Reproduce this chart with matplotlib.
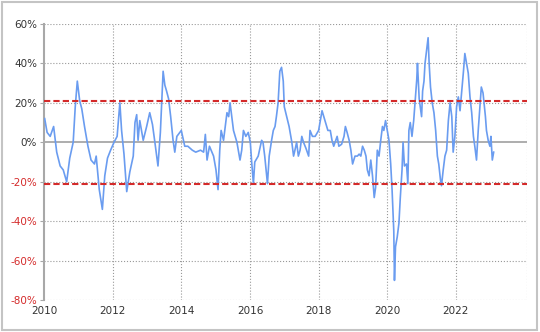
# Écart par rapport à la moyenne (en %), 2010 - 2023, avec bandes à +/-20 %

import matplotlib
matplotlib.use("Agg")
import matplotlib.pyplot as plt
from matplotlib.patches import Rectangle


# -----------------------------
# Données
# -----------------------------
annees = [
    2010.02, 2010.09, 2010.18, 2010.28, 2010.37, 2010.47, 2010.56, 2010.66, 2010.75, 2010.85,
    2010.91, 2010.97, 2011.04, 2011.10, 2011.18, 2011.28, 2011.37, 2011.47, 2011.52, 2011.61,
    2011.70, 2011.77, 2011.85, 2011.94, 2012.04, 2012.13, 2012.21, 2012.26, 2012.33, 2012.41,
    2012.50, 2012.60, 2012.65, 2012.70, 2012.74, 2012.79, 2012.89, 2012.99, 2013.08, 2013.16,
    2013.23, 2013.32, 2013.39, 2013.47, 2013.52, 2013.57, 2013.63, 2013.69, 2013.76, 2013.81,
    2013.87, 2014.00, 2014.10, 2014.19, 2014.32, 2014.42, 2014.56, 2014.65, 2014.70, 2014.75,
    2014.82, 2014.94, 2015.01, 2015.07, 2015.12, 2015.16, 2015.23, 2015.28, 2015.33, 2015.38,
    2015.42, 2015.47, 2015.52, 2015.57, 2015.62, 2015.66, 2015.71, 2015.76, 2015.81, 2015.88,
    2015.95, 2016.01, 2016.05, 2016.10, 2016.14, 2016.24, 2016.34, 2016.38, 2016.43, 2016.51,
    2016.56, 2016.63, 2016.68, 2016.73, 2016.77, 2016.82, 2016.87, 2016.92, 2016.97, 2017.00,
    2017.07, 2017.14, 2017.22, 2017.27, 2017.31, 2017.36, 2017.41, 2017.46, 2017.51, 2017.56,
    2017.63, 2017.71, 2017.75, 2017.82, 2017.90, 2018.00, 2018.05, 2018.10, 2018.15, 2018.20,
    2018.27, 2018.34, 2018.39, 2018.44, 2018.54, 2018.59, 2018.67, 2018.74, 2018.78, 2018.83,
    2018.89, 2018.94, 2018.99, 2019.06, 2019.13, 2019.18, 2019.23, 2019.28, 2019.33, 2019.38,
    2019.42, 2019.47, 2019.52, 2019.57, 2019.62, 2019.66, 2019.71, 2019.76, 2019.81, 2019.86,
    2019.90, 2019.95, 2020.00, 2020.05, 2020.10, 2020.14, 2020.19, 2020.21, 2020.24, 2020.29,
    2020.34, 2020.38, 2020.43, 2020.46, 2020.50, 2020.56, 2020.60, 2020.63, 2020.67, 2020.72,
    2020.77, 2020.82, 2020.86, 2020.88, 2020.93, 2020.96, 2021.00, 2021.03, 2021.07, 2021.10,
    2021.15, 2021.19, 2021.22, 2021.26, 2021.31, 2021.36, 2021.41, 2021.46, 2021.50, 2021.55,
    2021.58, 2021.63, 2021.68, 2021.73, 2021.78, 2021.83, 2021.88, 2021.92, 2021.97, 2022.02,
    2022.07, 2022.12, 2022.17, 2022.22, 2022.26, 2022.31, 2022.36, 2022.41, 2022.46, 2022.51,
    2022.55, 2022.60, 2022.65, 2022.70, 2022.74, 2022.79, 2022.82, 2022.86, 2022.89, 2022.94,
    2022.99, 2023.02, 2023.06, 2023.10,
]
ecarts = [
    12, 5, 3, 8, -5, -12, -14, -20, -8, 0,
    18, 31, 21, 17, 8, -2, -9, -11, -7, -24,
    -34, -17, -8, -4, 0, 3, 20, 6, -6, -25,
    -15, -7, 10, 14, 1, 11, 1, 8, 15, 9,
    0, -12, 5, 36, 29, 26, 22, 13, 1, -5,
    3, 6, -2, -2, -4, -5, -4, -5, 4, -9,
    -2, -7, -14, -24, -4, 6, 1, 8, 15, 13,
    20, 13, 6, 3, 0, -4, -9, -4, 6, 3,
    5, 0, -10, -21, -10, -7, 1, 0, -7, -21,
    -7, 1, 6, 8, 13, 20, 36, 38, 31, 18,
    13, 8, 0, -7, -4, 0, -7, -4, 3, 0,
    -3, -7, 6, 3, 3, 6, 11, 16, 13, 10,
    6, 6, 1, -2, 3, -2, -1, 3, 8, 5,
    1, -4, -11, -7, -7, -6, -7, -2, -4, -7,
    -14, -17, -9, -17, -28, -23, -4, -7, 1, 8,
    6, 11, 6, 1, -11, -24, -45, -70, -53, -48,
    -41, -28, -14, 0, -12, -11, -21, 6, 10, 3,
    11, 23, 32, 40, 22, 18, 13, 26, 31, 40,
    47, 53, 40, 28, 20, 15, 6, -7, -11, -19,
    -22, -14, -7, -4, 11, 20, 13, -5, 3, 18,
    23, 16, 26, 36, 45, 40, 35, 23, 15, 3,
    -2, -9, 6, 18, 28, 25, 20, 13, 6, 1,
    -2, 3, -9, -5,
]

SEUIL_HAUT = 20.7
SEUIL_BAS = -21.3

annees_ticks = list(range(2010, 2023, 2))
pct_ticks = [60, 40, 20, 0, -20, -40, -60, -80]

# -----------------------------
# Figure
# -----------------------------
fig = plt.figure(figsize=(5.4, 3.32), dpi=100)
ax = fig.add_axes([0.0815, 0.096, 0.895, 0.832])

# cadre gris autour de la figure
fig.patches.append(Rectangle((0.003, 0.006), 0.992, 0.988, transform=fig.transFigure,
                             fill=False, edgecolor="#c4c4c4", linewidth=1.5))

ax.plot(annees, ecarts, color="#6a9cf0", linewidth=1.2, zorder=3)

ax.axhline(SEUIL_HAUT, color="#d42a2a", linewidth=1.5, dashes=(3, 1.5), zorder=4)
ax.axhline(SEUIL_BAS, color="#d42a2a", linewidth=1.5, dashes=(3, 1.5), zorder=4)
ax.axhline(0, color="#a0a0a0", linewidth=1.2, zorder=2)

ax.set_xlim(2010, 2024.08)
ax.set_ylim(-80, 60)

# grille pointillée (y compris les bords)
for v in pct_ticks:
    if v != 0:
        ax.axhline(v, color="#999999", linestyle=":", linewidth=0.8, zorder=1)
for a in annees_ticks[1:] + [2024.08]:
    ax.axvline(a, color="#999999", linestyle=":", linewidth=0.8, zorder=1)

for s in ["top", "right", "bottom"]:
    ax.spines[s].set_visible(False)
ax.spines["left"].set_color("#a8a8a8")
ax.spines["left"].set_linewidth(1.5)

ax.set_xticks(annees_ticks)
ax.set_xticklabels([str(a) for a in annees_ticks], fontsize=7.5, color="#333333")
ax.set_yticks(pct_ticks)
ax.set_yticklabels([f"{v}%" for v in pct_ticks], fontsize=7.5)
for lbl, v in zip(ax.get_yticklabels(), pct_ticks):
    lbl.set_color("#d42a2a" if v < 0 else "#333333")

ax.tick_params(axis="y", length=3, color="#a8a8a8", pad=2)
ax.tick_params(axis="x", length=0, pad=4)

fig.savefig("out.png", dpi=100)
